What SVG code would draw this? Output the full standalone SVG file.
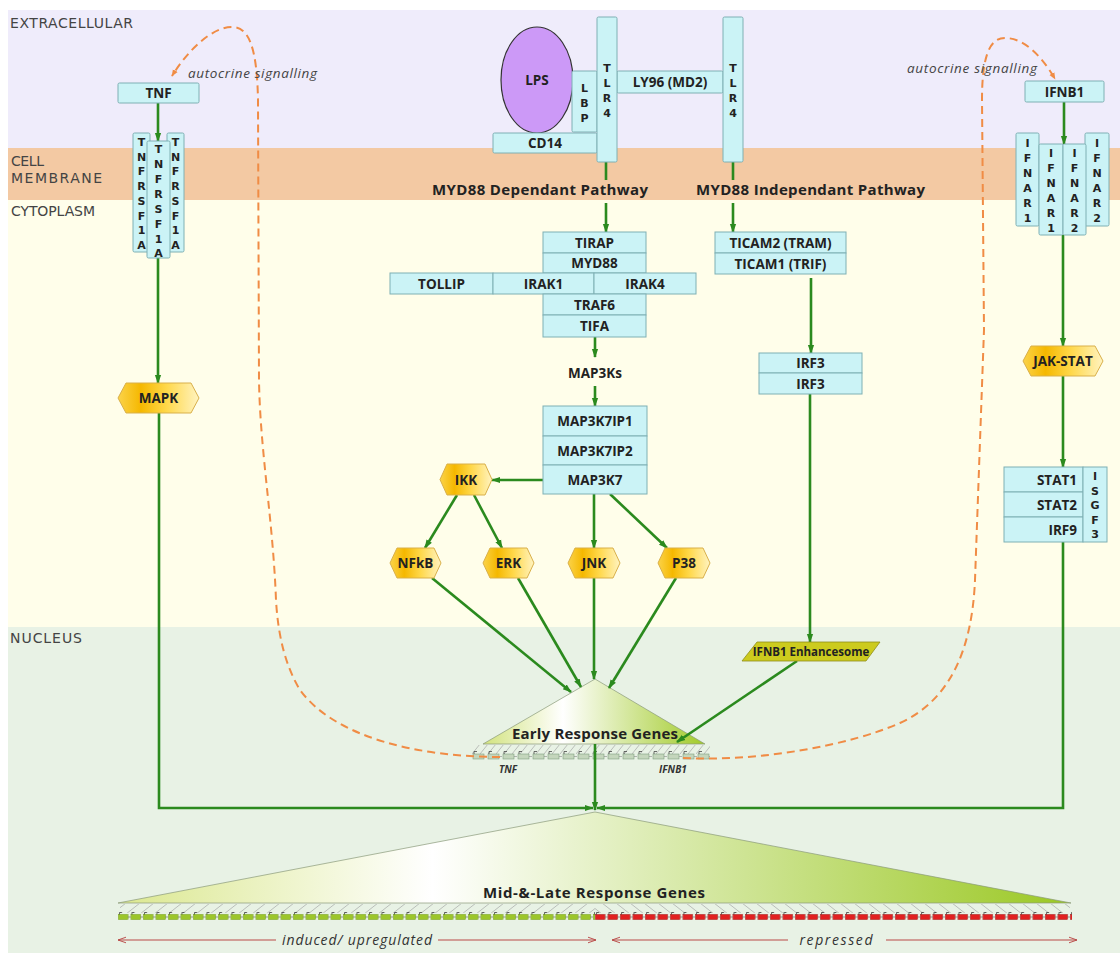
<svg xmlns="http://www.w3.org/2000/svg" width="1120" height="953" viewBox="0 0 1120 953">
<defs>
<style>
.p{fill:#cbf3f6;stroke:#7fb0b4;stroke-width:1}
.t{font-family:'Open Sans','DejaVu Sans',sans-serif;font-weight:bold;font-size:13.5px;fill:#222;text-anchor:middle}
.h{font-family:'Open Sans','DejaVu Sans',sans-serif;font-weight:bold;font-size:13.5px;fill:#222;text-anchor:middle}
.v{font-family:'DejaVu Sans','Open Sans',sans-serif;font-weight:bold;font-size:11px;fill:#222;text-anchor:middle}
.band{font-family:'DejaVu Sans','Open Sans',sans-serif;font-size:14px;fill:#444}
.hx{fill:url(#gold);stroke:#d9b04a;stroke-width:1}
.g{fill:none;stroke:#2b8a1e;stroke-width:2.6;marker-end:url(#ag)}
.gn{fill:none;stroke:#2b8a1e;stroke-width:2.6}
.d{fill:none;stroke:#f08c45;stroke-width:2;stroke-dasharray:8 5}
.it{font-family:'Open Sans','DejaVu Sans',sans-serif;font-style:italic;font-size:13.5px;fill:#444}
.ib{font-family:'Open Sans','DejaVu Sans',sans-serif;font-style:italic;font-size:14px;fill:#333;text-anchor:middle}
.gl{font-family:'Open Sans','DejaVu Sans',sans-serif;font-style:italic;font-weight:bold;font-size:10px;fill:#333;text-anchor:middle}
.r{stroke:#b94a48;stroke-width:1.2;fill:none}
.big{font-family:'Open Sans','DejaVu Sans',sans-serif;font-weight:bold;font-size:15px;fill:#222;text-anchor:middle}
</style>
<marker id="ag" viewBox="0 0 10 10" refX="9" refY="5" markerWidth="9" markerHeight="9" markerUnits="userSpaceOnUse" orient="auto"><path d="M0,1.5 L10,5 L0,8.5 z" fill="#2b8a1e"/></marker>
<marker id="ao" viewBox="0 0 10 10" refX="9" refY="5" markerWidth="7" markerHeight="7" markerUnits="userSpaceOnUse" orient="auto"><path d="M0,1 L10,5 L0,9 z" fill="#f08c45"/></marker>
<marker id="ra" viewBox="0 0 10 10" refX="10" refY="5" markerWidth="8" markerHeight="8" markerUnits="userSpaceOnUse" orient="auto-start-reverse"><path d="M0,1.5 L10,5 L0,8.5" fill="none" stroke="#b94a48" stroke-width="1.2"/></marker>
<linearGradient id="gold" x1="0" y1="0" x2="1" y2="0"><stop offset="0" stop-color="#fbd34a"/><stop offset="0.28" stop-color="#f5b800"/><stop offset="0.6" stop-color="#ffd84a"/><stop offset="1" stop-color="#fff3c0"/></linearGradient>
<linearGradient id="early" gradientUnits="userSpaceOnUse" x1="483" y1="0" x2="705" y2="0"><stop offset="0" stop-color="#d2e37e"/><stop offset="0.36" stop-color="#ffffff"/><stop offset="1" stop-color="#a2cb2a"/></linearGradient>
<linearGradient id="late" gradientUnits="userSpaceOnUse" x1="118" y1="0" x2="1071" y2="0"><stop offset="0" stop-color="#dbe890"/><stop offset="0.33" stop-color="#ffffff"/><stop offset="1" stop-color="#9bc824"/></linearGradient>
<pattern id="geneE" x="472" y="750" width="15" height="10" patternUnits="userSpaceOnUse"><rect x="1" y="4" width="11" height="5" fill="#c4d6bc" stroke="#7f9f7f" stroke-width="0.6"/><path d="M12,6.5 H15" stroke="#888" stroke-width="0.6"/><path d="M2,4 V1.5 H5" stroke="#333" stroke-width="0.7" fill="none"/></pattern>
<pattern id="geneG" x="118" y="911" width="12.5" height="10" patternUnits="userSpaceOnUse"><rect x="0.5" y="3.5" width="9.5" height="5" fill="#9cc62a" stroke="#6f9a10" stroke-width="0.5"/><path d="M10,6 H12.5" stroke="#555" stroke-width="0.6"/><path d="M1.5,3.5 V1.5 H4" stroke="#222" stroke-width="0.7" fill="none"/></pattern>
<pattern id="geneR" x="595" y="911" width="12.5" height="10" patternUnits="userSpaceOnUse"><rect x="0.5" y="3.5" width="9.5" height="5" fill="#e22020" stroke="#a01010" stroke-width="0.5"/><path d="M10,6 H12.5" stroke="#555" stroke-width="0.6"/><path d="M1.5,3.5 V1.5 H4" stroke="#222" stroke-width="0.7" fill="none"/></pattern>
<pattern id="hatchL" x="0" y="903" width="14" height="11" patternUnits="userSpaceOnUse"><path d="M0,11 L14,0" stroke="#9a9a9a" stroke-width="0.6"/></pattern>
<pattern id="hatchR" x="0" y="903" width="14" height="11" patternUnits="userSpaceOnUse"><path d="M0,0 L14,11" stroke="#9a9a9a" stroke-width="0.6"/></pattern>
<pattern id="hatchE" x="0" y="744" width="8" height="10" patternUnits="userSpaceOnUse"><path d="M0,10 L8,0" stroke="#9a9a9a" stroke-width="0.6"/></pattern>
</defs>

<g id="compartments">
<rect x="0" y="0" width="1120" height="953" fill="#ffffff"/>
<rect x="8" y="10" width="1112" height="138" fill="#efecfb"/>
<rect x="8" y="148" width="1112" height="52" fill="#f3c9a3"/>
<rect x="8" y="200" width="1112" height="427" fill="#fffeea"/>
<rect x="8" y="627" width="1112" height="326" fill="#e8f2e5"/>
<text class="band" x="10" y="28" textLength="123">EXTRACELLULAR</text>
<text class="band" x="11" y="166" textLength="33">CELL</text>
<text class="band" x="11" y="183" textLength="91">MEMBRANE</text>
<text class="band" x="11" y="216" textLength="84">CYTOPLASM</text>
<text class="band" x="10" y="643" textLength="72">NUCLEUS</text>
</g>

<g id="early-response-genes">
<polygon points="595,679 483,744 705,744" fill="url(#early)" stroke="#8a9a7a" stroke-width="0.7"/>
<rect x="472" y="745" width="238" height="9" fill="url(#hatchE)"/>
<rect x="472" y="750" width="238" height="10" fill="url(#geneE)"/>
<text class="big" x="595" y="739" textLength="166">Early Response Genes</text>
<text class="gl" x="508" y="773">TNF</text>
<text class="gl" x="673" y="773">IFNB1</text>
</g>

<g id="mid-late-response-genes">
<polygon points="595,812 118,903 1071,903" fill="url(#late)" stroke="#8a9a7a" stroke-width="0.7"/>
<rect x="120" y="904" width="475" height="9" fill="url(#hatchL)"/>
<rect x="595" y="904" width="475" height="9" fill="url(#hatchR)"/>
<rect x="118" y="911" width="477" height="10" fill="url(#geneG)"/>
<rect x="595" y="911" width="477" height="10" fill="url(#geneR)"/>
<text class="big" x="594" y="898" textLength="222">Mid-&amp;-Late Response Genes</text>
<path class="r" d="M118,940 H276" marker-start="url(#ra)"/>
<path class="r" d="M438,940 H596" marker-end="url(#ra)"/>
<text class="ib" x="357" y="945" textLength="150">induced/ upregulated</text>
<path class="r" d="M612,940 H788" marker-start="url(#ra)"/>
<path class="r" d="M886,940 H1077" marker-end="url(#ra)"/>
<text class="ib" x="836" y="945" textLength="73">repressed</text>
</g>

<g id="connectors">
<path class="g" d="M158,103 V141"/>
<path class="g" d="M158,258 V383"/>
<path class="g" d="M159,413 V808 H593"/>
<path class="gn" d="M606,162 V180"/>
<path class="g" d="M606,203 V232"/>
<path class="gn" d="M733,162 V180"/>
<path class="g" d="M733,203 V232"/>
<path class="g" d="M595,337 V357"/>
<path class="g" d="M595,386 V406"/>
<path class="g" d="M543,480 H492"/>
<path class="g" d="M457,495 L425,548"/>
<path class="g" d="M474,495 L502,548"/>
<path class="g" d="M594,494 V548"/>
<path class="g" d="M610,494 L667,548"/>
<path class="g" d="M432,578 L571,692"/>
<path class="g" d="M518,578 L581,687"/>
<path class="g" d="M594,578 V679"/>
<path class="g" d="M676,578 L609,688"/>
<path class="g" d="M811,278 V353"/>
<path class="g" d="M810,394 V642"/>
<path class="g" d="M797,661 L677,742"/>
<path class="g" d="M1064,102 V144"/>
<path class="g" d="M1063,235 V346"/>
<path class="g" d="M1063,376 V467"/>
<path class="g" d="M1063,542 V808 H597"/>
<path class="g" d="M595,744 V810"/>
<path class="d" marker-end="url(#ao)" d="M500,757 C420,757 335,738 300,690 C285,665 278,635 276,600 C273,520 260,450 259,380 L258,100 C257,45 248,27 232,27 C212,27 188,50 172,76"/>
<path class="d" marker-end="url(#ao)" d="M683,758 C760,762 850,745 900,723 C950,700 972,650 975,580 L984,330 L982,100 C982,55 990,38 1005,38 C1025,38 1043,58 1055,79"/>
<text class="it" x="188" y="78" textLength="129">autocrine signalling</text>
<text class="it" x="907" y="73" textLength="130">autocrine signalling</text>
<text class="big" x="540" y="195" textLength="216">MYD88 Dependant Pathway</text>
<text class="big" x="810.5" y="195" textLength="229">MYD88 Independant Pathway</text>
</g>

<g id="TNF"><rect class="p" x="118" y="83" width="81" height="20" rx="1.5"/><text class="t" x="158.5" y="98">TNF</text></g>

<g id="TNFRSF1A">
<rect class="p" x="133" y="133" width="17" height="119" rx="1.5"/>
<text class="v"><tspan x="141.5" y="146">T</tspan><tspan x="141.5" y="160.5">N</tspan><tspan x="141.5" y="175">F</tspan><tspan x="141.5" y="190">R</tspan><tspan x="141.5" y="205">S</tspan><tspan x="141.5" y="219.5">F</tspan><tspan x="141.5" y="234">1</tspan><tspan x="141.5" y="249">A</tspan></text>
<rect class="p" x="167" y="133" width="17" height="119" rx="1.5"/>
<text class="v"><tspan x="175.5" y="146">T</tspan><tspan x="175.5" y="160.5">N</tspan><tspan x="175.5" y="175">F</tspan><tspan x="175.5" y="190">R</tspan><tspan x="175.5" y="205">S</tspan><tspan x="175.5" y="219.5">F</tspan><tspan x="175.5" y="234">1</tspan><tspan x="175.5" y="249">A</tspan></text>
<rect class="p" x="147" y="141" width="23" height="117" rx="1.5"/>
<text class="v" font-size="12"><tspan x="158.5" y="153">T</tspan><tspan x="158.5" y="168">N</tspan><tspan x="158.5" y="183">F</tspan><tspan x="158.5" y="198">R</tspan><tspan x="158.5" y="213">S</tspan><tspan x="158.5" y="228">F</tspan><tspan x="158.5" y="243">1</tspan><tspan x="158.5" y="257">A</tspan></text>
</g>

<g id="MAPK"><polygon class="hx" points="118,398 126,383 191,383 199,398 191,413 126,413"/><text class="h" x="158.5" y="403">MAPK</text></g>

<g id="LPS"><ellipse cx="537" cy="80" rx="36" ry="53" fill="#cc99f7" stroke="#333" stroke-width="1.2"/><text class="t" x="537" y="85">LPS</text></g>

<g id="LBP"><rect class="p" x="572" y="71" width="25" height="61" rx="1.5"/>
<text class="v" font-size="11.5"><tspan x="584.5" y="92">L</tspan><tspan x="584.5" y="107">B</tspan><tspan x="584.5" y="121.5">P</tspan></text></g>

<g id="CD14"><rect class="p" x="493" y="133" width="104" height="20" rx="1.5"/><text class="t" x="545" y="148">CD14</text></g>

<g id="LY96"><rect class="p" x="617" y="71" width="106" height="22" rx="1.5"/><text class="t" x="670" y="87">LY96 (MD2)</text></g>

<g id="TLR4-a"><rect class="p" x="597" y="17" width="20" height="145" rx="1.5"/>
<text class="v" font-size="11.5"><tspan x="607" y="72">T</tspan><tspan x="607" y="87">L</tspan><tspan x="607" y="102">R</tspan><tspan x="607" y="117">4</tspan></text></g>

<g id="TLR4-b"><rect class="p" x="723" y="17" width="20" height="145" rx="1.5"/>
<text class="v" font-size="11.5"><tspan x="733" y="72">T</tspan><tspan x="733" y="87">L</tspan><tspan x="733" y="102">R</tspan><tspan x="733" y="117">4</tspan></text></g>

<g id="MYD88-complex">
<rect class="p" x="543" y="232" width="103" height="21"/><text class="t" x="594.5" y="247.5">TIRAP</text>
<rect class="p" x="543" y="253" width="103" height="20"/><text class="t" x="594.5" y="268">MYD88</text>
<rect class="p" x="390" y="273" width="103" height="21"/><text class="t" x="441.5" y="288.5">TOLLIP</text>
<rect class="p" x="493" y="273" width="101" height="21"/><text class="t" x="543.5" y="288.5">IRAK1</text>
<rect class="p" x="594" y="273" width="102" height="21"/><text class="t" x="645" y="288.5">IRAK4</text>
<rect class="p" x="543" y="294" width="103" height="21"/><text class="t" x="594.5" y="309.5">TRAF6</text>
<rect class="p" x="543" y="315" width="103" height="22"/><text class="t" x="594.5" y="331">TIFA</text>
</g>

<g id="MAP3Ks"><text class="t" x="595" y="378">MAP3Ks</text></g>

<g id="MAP3K7-complex">
<rect class="p" x="543" y="406" width="104" height="30"/><text class="t" x="595" y="426">MAP3K7IP1</text>
<rect class="p" x="543" y="436" width="104" height="29"/><text class="t" x="595" y="455.5">MAP3K7IP2</text>
<rect class="p" x="543" y="465" width="104" height="29"/><text class="t" x="595" y="484.5">MAP3K7</text>
</g>

<g id="IKK"><polygon class="hx" points="440,479.5 447,464 485,464 492,479.5 485,495 447,495"/><text class="h" x="466" y="484.5">IKK</text></g>
<g id="NFkB"><polygon class="hx" points="390,563 397,548 434,548 441,563 434,578 397,578"/><text class="h" x="415.5" y="568">NFkB</text></g>
<g id="ERK"><polygon class="hx" points="483,563 490,548 527,548 534,563 527,578 490,578"/><text class="h" x="508.5" y="568">ERK</text></g>
<g id="JNK"><polygon class="hx" points="568,563 575,548 613,548 620,563 613,578 575,578"/><text class="h" x="594" y="568">JNK</text></g>
<g id="P38"><polygon class="hx" points="658,563 665,548 703,548 710,563 703,578 665,578"/><text class="h" x="684" y="568">P38</text></g>

<g id="TICAM">
<rect class="p" x="715" y="232" width="131" height="21"/><text class="t" x="780.5" y="247.5">TICAM2 (TRAM)</text>
<rect class="p" x="715" y="253" width="131" height="21"/><text class="t" x="780.5" y="268.5">TICAM1 (TRIF)</text>
</g>

<g id="IRF3">
<rect class="p" x="759" y="353" width="103" height="20"/><text class="t" x="810.5" y="368">IRF3</text>
<rect class="p" x="759" y="373" width="103" height="21"/><text class="t" x="810.5" y="388.5">IRF3</text>
</g>

<g id="IFNB1-enhancesome"><polygon points="757,642 880,642 866,661 742,661" fill="#cccb1e" stroke="#8f8e1a" stroke-width="0.8"/><text class="t" x="811" y="656" font-size="11.5" style="font-size:11.5px">IFNB1 Enhancesome</text></g>

<g id="IFNB1"><rect class="p" x="1025" y="81" width="79" height="21" rx="1.5"/><text class="t" x="1064.5" y="96.5">IFNB1</text></g>

<g id="IFNAR">
<rect class="p" x="1016" y="133" width="23" height="93" rx="1.5"/>
<text class="v"><tspan x="1027.5" y="147">I</tspan><tspan x="1027.5" y="162">F</tspan><tspan x="1027.5" y="177">N</tspan><tspan x="1027.5" y="192">A</tspan><tspan x="1027.5" y="207">R</tspan><tspan x="1027.5" y="222">1</tspan></text>
<rect class="p" x="1085" y="133" width="24" height="93" rx="1.5"/>
<text class="v"><tspan x="1097" y="147">I</tspan><tspan x="1097" y="162">F</tspan><tspan x="1097" y="177">N</tspan><tspan x="1097" y="192">A</tspan><tspan x="1097" y="207">R</tspan><tspan x="1097" y="222">2</tspan></text>
<rect class="p" x="1039" y="144" width="24" height="91" rx="1.5"/>
<text class="v"><tspan x="1051" y="157">I</tspan><tspan x="1051" y="172">F</tspan><tspan x="1051" y="187">N</tspan><tspan x="1051" y="202">A</tspan><tspan x="1051" y="217">R</tspan><tspan x="1051" y="232">1</tspan></text>
<rect class="p" x="1063" y="144" width="23" height="91" rx="1.5"/>
<text class="v"><tspan x="1074.5" y="157">I</tspan><tspan x="1074.5" y="172">F</tspan><tspan x="1074.5" y="187">N</tspan><tspan x="1074.5" y="202">A</tspan><tspan x="1074.5" y="217">R</tspan><tspan x="1074.5" y="232">2</tspan></text>
</g>

<g id="JAK-STAT"><polygon class="hx" points="1023,361 1031,346 1095,346 1103,361 1095,376 1031,376"/><text class="h" x="1063" y="366">JAK-STAT</text></g>

<g id="ISGF3">
<rect class="p" x="1004" y="467" width="79" height="25"/><text class="t" x="1077" y="484.5" style="text-anchor:end">STAT1</text>
<rect class="p" x="1004" y="492" width="79" height="25"/><text class="t" x="1077" y="509.5" style="text-anchor:end">STAT2</text>
<rect class="p" x="1004" y="517" width="79" height="25"/><text class="t" x="1077" y="534.5" style="text-anchor:end">IRF9</text>
<rect class="p" x="1083" y="467" width="24" height="75"/>
<text class="v"><tspan x="1095" y="480">I</tspan><tspan x="1095" y="494.5">S</tspan><tspan x="1095" y="509">G</tspan><tspan x="1095" y="523.5">F</tspan><tspan x="1095" y="538">3</tspan></text>
</g>
</svg>
